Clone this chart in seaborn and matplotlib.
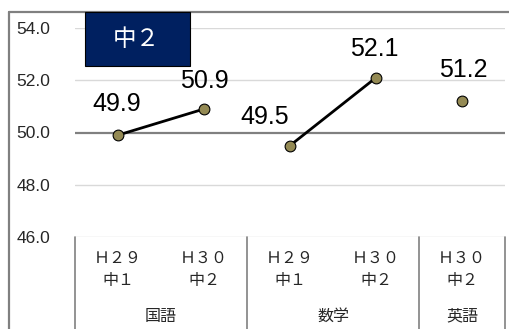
import matplotlib
matplotlib.use("Agg")
import matplotlib.pyplot as plt
import seaborn as sns
import pandas as pd
from matplotlib.lines import Line2D
from matplotlib.patches import Rectangle

# ---- data ----
years = ["Ｈ２９", "Ｈ３０", "Ｈ２９", "Ｈ３０", "Ｈ３０"]
grades = ["中１", "中２", "中１", "中２", "中２"]
subjects = ["国語", "国語", "数学", "数学", "英語"]
values = [49.9, 50.9, 49.5, 52.1, 51.2]
yticks = [46.0, 48.0, 50.0, 52.0, 54.0]
title_text = "中２"

sns.set_theme(style="white")
plt.rcParams['font.family'] = ['Noto Sans CJK JP', 'DejaVu Sans']
NUMFONT = ['Liberation Sans', 'DejaVu Sans']

W, H = 510, 329
fig = plt.figure(figsize=(W / 100, H / 100), dpi=100)
L, R, T, B = 75, 505, 28, 237
ax = fig.add_axes([L / W, 1 - B / H, (R - L) / W, (B - T) / H])

df = pd.DataFrame({"x": range(len(values)), "value": values, "subject": subjects})

sns.lineplot(data=df, x="x", y="value", hue="subject", palette=["black"] * 3,
             legend=False, ax=ax, linewidth=2.0, zorder=3)
sns.scatterplot(data=df, x="x", y="value", color="#948A54", edgecolor="black",
                linewidth=0.8, s=60, ax=ax, zorder=4, legend=False)

ax.set_xlim(-0.5, len(values) - 0.5)
ax.set_ylim(yticks[0], yticks[-1])
ax.set_yticks(yticks)
ax.set_yticklabels([f"{t:.1f}" for t in yticks], fontfamily=NUMFONT, fontsize=12.5)
ax.set_xticks([])
ax.set_xlabel("")
ax.set_ylabel("")
ax.tick_params(axis="y", length=0, pad=18)
for s in ax.spines.values():
    s.set_visible(False)

for t in yticks:
    if t == 50.0:
        ax.axhline(t, color="#808080", lw=1.6, zorder=1)
    else:
        ax.axhline(t, color="#D9D9D9", lw=1.0, zorder=1)

# data labels
offsets = [(-1, 31), (0, 28), (-25, 29), (-2, 29), (1, 31)]
for i, (v, off) in enumerate(zip(values, offsets)):
    ax.annotate(f"{v:.1f}", (i, v), xytext=off, textcoords="offset pixels",
                ha="center", va="center", fontsize=18, fontfamily=NUMFONT,
                color="black", zorder=5)

# multi-level category axis
tr = ax.get_xaxis_transform()
def ypx(p):
    return -(p - B) / (B - T)
for i, (yr, gr) in enumerate(zip(years, grades)):
    ax.text(i, ypx(258), yr, transform=tr, ha="center", va="center", fontsize=11.5, clip_on=False)
    ax.text(i, ypx(281), gr, transform=tr, ha="center", va="center", fontsize=11.5, clip_on=False)
# group labels and separators
groups = []
for i, s in enumerate(subjects):
    if groups and groups[-1][0] == s:
        groups[-1][2] = i
    else:
        groups.append([s, i, i])
for s, a, b in groups:
    ax.text((a + b) / 2, ypx(316), s, transform=tr, ha="center", va="center", fontsize=11.5, clip_on=False)
bounds = [groups[0][1] - 0.5] + [g[2] + 0.5 for g in groups]
for xb in bounds:
    ax.add_line(Line2D([xb, xb], [0, ypx(H + 2)], transform=tr, color="#808080",
                       lw=1.2, clip_on=False))

# chart border (top and left visible)
fig.add_artist(Line2D([9 / W, 1.0], [1 - 12 / H, 1 - 12 / H], transform=fig.transFigure,
                      color="#808080", lw=1.6))
fig.add_artist(Line2D([9 / W, 9 / W], [1 - 12 / H, 0], transform=fig.transFigure,
                      color="#808080", lw=1.6))

# title box
fig.add_artist(Rectangle((85 / W, 1 - 66 / H), 105 / W, 54 / H, transform=fig.transFigure,
                         facecolor="#002060", edgecolor="black", lw=0.8, zorder=6))
fig.text(136 / W, 1 - 40 / H, title_text, color="white", fontsize=17,
         ha="center", va="center", zorder=7)

fig.savefig("out.png", dpi=100)
